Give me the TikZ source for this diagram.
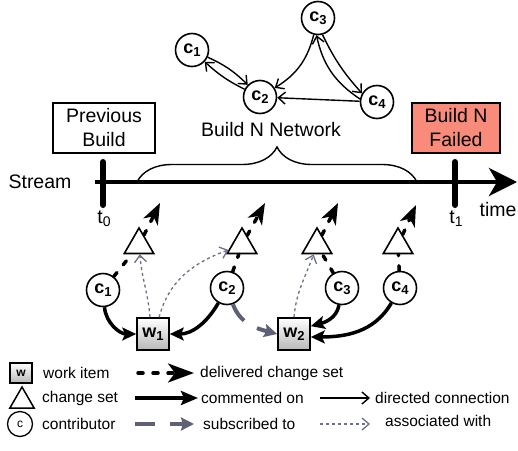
\documentclass[tikz,border=0pt]{standalone}
\usepackage{fontspec}
\setmainfont{Liberation Sans}
\usetikzlibrary{arrows.meta,decorations.pathreplacing,shapes.geometric}

\definecolor{failred}{HTML}{F98B7B}
\definecolor{subgray}{HTML}{5E6175}
\definecolor{assocgray}{HTML}{6D7086}

% letter with a lowered index in a smaller size
\newcommand{\idx}[3]{#1\raisebox{-0.32ex}{\fontsize{#3}{#3}\selectfont #2}}

\tikzset{
  big/.style={font=\fontsize{19.5}{24}\selectfont},
  small/.style={font=\fontsize{15.5}{18}\selectfont},
  contrib/.style={circle, draw, line width=1.6pt, fill=white, minimum size=33pt,
    inner sep=0pt, font=\fontsize{18}{18}\selectfont\bfseries},
  changeset/.style={regular polygon, regular polygon sides=3, draw, line width=1.6pt,
    fill=white, minimum size=34pt, inner sep=0pt},
  workitem/.style={rectangle, draw, line width=1.6pt, top color=white,
    bottom color=black!28, minimum size=32pt, inner sep=0pt,
    font=\fontsize{18}{18}\selectfont\bfseries},
  deliver/.style={line width=3.5pt, dash pattern=on 5pt off 10pt, line cap=round,
    -{Stealth[length=21pt,width=16pt,inset=6pt]}},
  comment/.style={line width=3.5pt, -{Stealth[length=14pt,width=13pt,inset=3pt]}},
  directed/.style={line width=1.4pt, -{Straight Barb[length=7pt,width=12pt]}},
  subscr/.style={subgray, line width=4pt, dash pattern=on 20pt off 15pt,
    -{Stealth[length=13pt,width=13pt,inset=2pt]}},
  assoc/.style={assocgray, line width=1.3pt, dash pattern=on 3pt off 3pt,
    -{Straight Barb[length=7pt,width=12pt]}},
  tick/.style={line width=6pt, line cap=round},
  buildbox/.style={draw, line width=1.6pt, minimum width=#1, minimum height=50pt,
    inner sep=0pt, align=center, big},
  legtext/.style={small, anchor=west, inner sep=0pt},
}

\begin{document}
\begin{tikzpicture}[x=1pt,y=1pt]
\useasboundingbox (0,0) rectangle (518,-450);

% ---- contributor network of build N ----
\node[contrib] (n1) at (192,-50)  {\idx{c}{1}{13}};
\node[contrib] (n2) at (260,-97)  {\idx{c}{2}{13}};
\node[contrib] (n3) at (318,-18)  {\idx{c}{3}{13}};
\node[contrib] (n4) at (377,-102) {\idx{c}{4}{13}};
\draw[directed] (n1) to[bend left=10] (n2);
\draw[directed] (n2) to[bend left=8] (n1);
\draw[directed] (n3) to[bend left=22] (n2);
\draw[directed] (n3.-75) to[bend right=8] (n4.150);
\draw[directed] (n4.170) to[bend left=22] (n3.-95);
\draw[directed] (n4) -- (n2);

% ---- builds and the stream ----
\node[buildbox=102pt] (prev) at (104,-128) {Previous\\Build};
\node[buildbox=88pt, fill=failred] (fail) at (456,-128) {Build N\\Failed};
\node[big] (net) at (271,-130) {Build N Network};
\node[big] (stream) at (40,-182) {Stream};
\coordinate (tl0) at (95,-182);
\coordinate (tl1) at (517,-182);
\draw[line width=4pt, -{Stealth[length=28pt,width=28pt,inset=8pt]}] (tl0) -- (tl1);
\draw[line width=1.4pt, decorate, decoration={brace, amplitude=35pt}]
  (137,-182) -- (417,-182);
\draw[tick] (103,-162) -- (103,-205);
\draw[tick] (455,-162) -- (455,-205);
\node[big] (t0) at (104,-219) {\idx{t}{0}{14}};
\node[big] (t1) at (456,-219) {\idx{t}{1}{14}};
\node[big] (time) at (498,-210) {time};

% ---- change sets, contributors, work items ----
\node[changeset] (cs1) at (139,-245) {};
\node[changeset] (cs2) at (242,-245) {};
\node[changeset] (cs3) at (317,-245) {};
\node[changeset] (cs4) at (398,-245) {};
\coordinate (tip1) at (160,-203);
\coordinate (tip2) at (265,-203);
\coordinate (tip3) at (338,-203);
\coordinate (tip4) at (416,-205);

\node[contrib] (c1) at (103,-290) {\idx{c}{1}{13}};
\node[contrib] (c2) at (227,-288) {\idx{c}{2}{13}};
\node[contrib] (c3) at (342,-288) {\idx{c}{3}{13}};
\node[contrib] (c4) at (400,-288) {\idx{c}{4}{13}};

\node[workitem] (w1) at (153,-334) {\idx{w}{1}{13}};
\node[workitem] (w2) at (294,-334) {\idx{w}{2}{13}};

% delivered change sets
\draw[deliver] (c1) -- (cs1) -- (tip1);
\draw[deliver] (c2) -- (cs2) -- (tip2);
\draw[deliver] (c3) -- (cs3) -- (tip3);
\draw[deliver] (c4) -- (cs4) -- (tip4);

% comments on work items
\draw[comment] (c1) to[out=-85,in=180] (w1.west);
\draw[comment] (c2) to[out=-120,in=0] (w1.east);
\draw[comment] (c3) to[out=-100,in=15] (w2.25);
\draw[comment] (c4) to[out=-120,in=0] (w2.-10);

% subscription
\draw[subscr] (c2) to[out=-70,in=165] (w2.west);

% work items associated with change sets
\draw[assoc] (w1.100) to[out=95,in=-85] (cs1);
\draw[assoc] (w1.70) to[out=75,in=200] (cs2);
\draw[assoc] (w2.north) to[out=85,in=250] (cs3);

% ---- legend ----
\node[workitem, minimum width=22pt, minimum height=20pt, line width=1.3pt,
  font=\fontsize{12}{12}\selectfont\bfseries] (lw) at (21,-373) {w};
\node[legtext] (lwt) at (43,-373) {work item};
\coordinate (ld0) at (138,-373);
\coordinate (ld1) at (194,-373);
\draw[deliver, dash pattern=on 5pt off 10pt, -{Stealth[length=26pt,width=19pt,inset=7pt]}] (ld0) -- (ld1);
\node[legtext] (ldt) at (200,-373) {delivered change set};

\node[changeset, minimum size=28pt, line width=1.5pt] (lt) at (22,-401) {};
\node[legtext] (ltt) at (42,-398) {change set};
\coordinate (lc0) at (135,-398);
\coordinate (lc1) at (198,-398);
\draw[comment, -{Stealth[length=17pt,width=14pt,inset=3pt]}] (lc0) -- (lc1);
\node[legtext] (lct) at (201,-398) {commented on};
\coordinate (lr0) at (320,-398);
\coordinate (lr1) at (370,-398);
\draw[directed] (lr0) -- (lr1);
\node[legtext] (lrt) at (375,-398) {directed connection};

\node[circle, draw, line width=1.3pt, minimum size=25pt, inner sep=0pt,
  font=\fontsize{12}{12}\selectfont] (lcn) at (20,-424) {c};
\node[legtext] (lcnt) at (42,-424) {contributor};
\coordinate (ls0) at (135,-424);
\coordinate (ls1) at (194,-424);
\draw[subscr] (ls0) -- (ls1);
\node[legtext] (lst) at (203,-424) {subscribed to};
\coordinate (la0) at (320,-424);
\coordinate (la1) at (370,-424);
\draw[assoc] (la0) -- (la1);
\node[legtext] (lat) at (385,-421) {associated with};
\end{tikzpicture}
\end{document}
